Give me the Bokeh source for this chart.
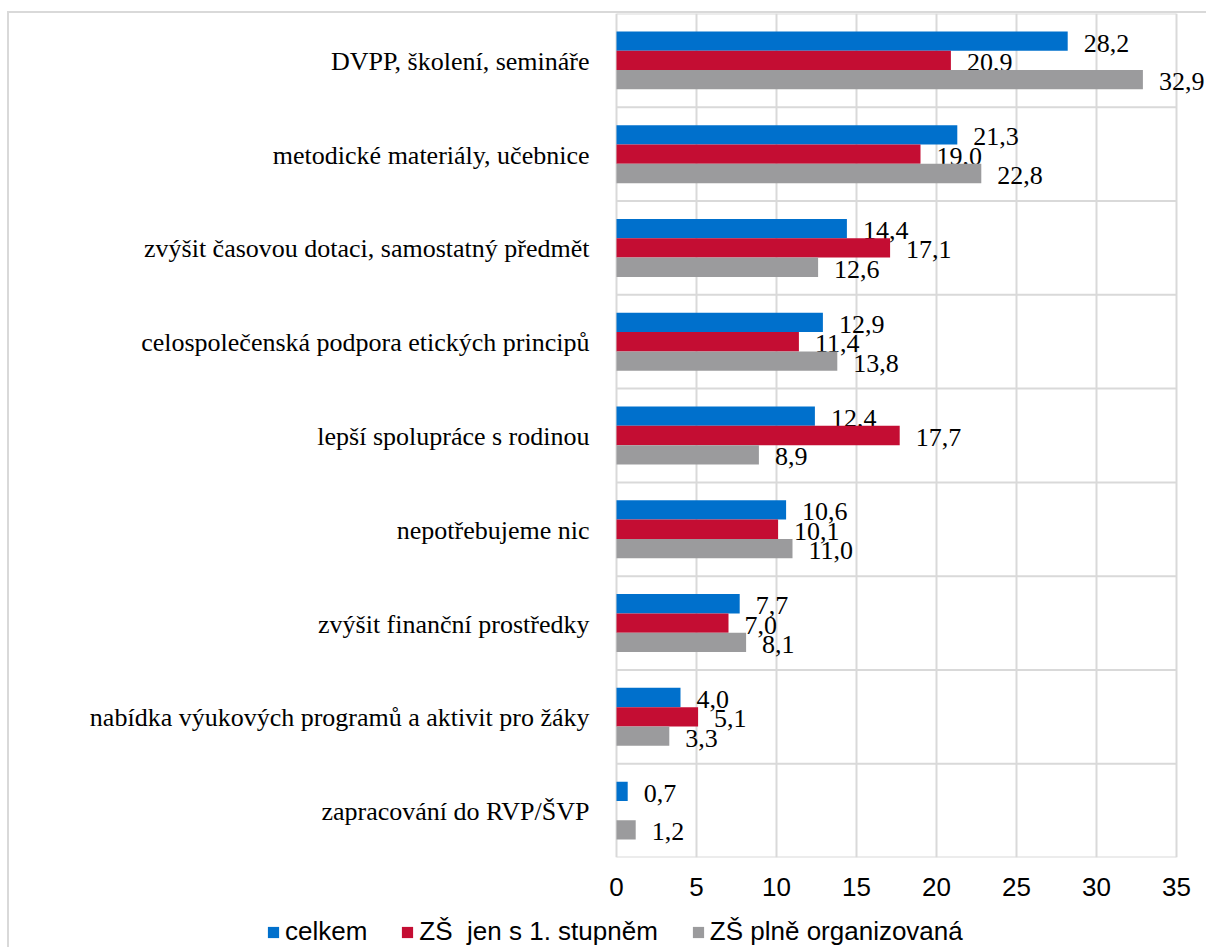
from bokeh.plotting import figure
from bokeh.layouts import column
from bokeh.models import ColumnDataSource, FactorRange, FixedTicker, Legend, LegendItem
from bokeh.transform import dodge
from bokeh.embed import file_html
from bokeh.resources import INLINE

categories = [
    "DVPP, školení, semináře",
    "metodické materiály, učebnice",
    "zvýšit časovou dotaci, samostatný předmět",
    "celospolečenská podpora etických principů",
    "lepší spolupráce s rodinou",
    "nepotřebujeme nic",
    "zvýšit finanční prostředky",
    "nabídka výukových programů a aktivit pro žáky",
    "zapracování do RVP/ŠVP",
]
celkem = [28.2, 21.3, 14.4, 12.9, 12.4, 10.6, 7.7, 4.0, 0.7]
zs_1st = [20.9, 19.0, 17.1, 11.4, 17.7, 10.1, 7.0, 5.1, None]
zs_full = [32.9, 22.8, 12.6, 13.8, 8.9, 11.0, 8.1, 3.3, 1.2]
series_names = ["celkem", "ZŠ  jen s 1. stupněm", "ZŠ plně organizovaná"]
x_ticks = [0, 5, 10, 15, 20, 25, 30, 35]

SERIF = ["Liberation Serif", "Times New Roman", "serif", "Tinos", "Times",
         "Liberation Serif, serif", "Times New Roman, serif", "Tinos, serif", "Times, serif"]
colors = ["#0070CC", "#C40D33", "#9B9B9D"]
offsets = [0.206, 0.0, -0.206]
bar_h = 0.206
GRID = "#d9d9d9"

p = figure(
    width=1199, height=892,
    y_range=FactorRange(factors=list(reversed(categories))),
    x_range=(-37.9375, 37.0),
    y_axis_location=None,
    output_backend="svg", toolbar_location=None,
    min_border_left=0, min_border_right=0, min_border_top=0, min_border_bottom=48,
    styles={"border-left": "2px solid " + GRID, "border-top": "2px solid " + GRID},
)
p.y_range.range_padding = 0
p.outline_line_color = None

p.xgrid.ticker = FixedTicker(ticks=x_ticks)
p.xgrid.grid_line_color = GRID
p.xgrid.grid_line_width = 2
p.ygrid.grid_line_color = None

cat_src = ColumnDataSource(dict(cat=categories, font=SERIF[:len(categories)]))
p.segment(x0=0, x1=35, y0=dodge("cat", -0.5, range=p.y_range), y1=dodge("cat", -0.5, range=p.y_range),
          source=cat_src, line_color=GRID, line_width=2)
p.segment(x0=0, x1=35, y0=dodge("cat", 0.5, range=p.y_range), y1=dodge("cat", 0.5, range=p.y_range),
          source=ColumnDataSource(dict(cat=categories[:1])), line_color=GRID, line_width=2)

# category labels
p.text(x=0, y="cat", text="cat", source=cat_src, x_offset=-27, y_offset=1,
       text_font="font", text_font_size="26px", text_color="#000000",
       text_baseline="middle", text_align="right")

p2 = figure(
    width=1199, height=44,
    y_range=p.y_range, x_range=p.x_range,
    x_axis_location=None, y_axis_location=None,
    output_backend="svg", toolbar_location=None,
    min_border_left=0, min_border_right=0, min_border_top=0, min_border_bottom=0,
    styles={"border-left": "2px solid " + GRID},
)
p2.grid.grid_line_color = None
p2.outline_line_color = None

items = []
for name, vals, col, off in zip(series_names, [celkem, zs_1st, zs_full], colors, offsets):
    idx = [i for i, v in enumerate(vals) if v is not None]
    src = ColumnDataSource(dict(cat=[categories[i] for i in idx],
                                val=[vals[i] for i in idx],
                                lab=[f"{vals[i]:.1f}".replace(".", ",") for i in idx],
                                font=[SERIF[i] for i in idx]))
    p.hbar(y=dodge("cat", off, range=p.y_range), right="val", left=0, height=bar_h,
           source=src, fill_color=col, line_color=None)
    p.text(x="val", y=dodge("cat", off, range=p.y_range), text="lab", source=src,
           x_offset=16, y_offset=2, text_font="font", text_font_size="26px",
           text_color="#000000", text_baseline="middle", text_align="left")
    r2 = p2.hbar(y=dodge("cat", off, range=p.y_range), right="val", left=0, height=bar_h,
                 source=src, fill_color=col, line_color=None, visible=False)
    items.append(LegendItem(label=name, renderers=[r2]))

legend = Legend(items=items, orientation="horizontal", location=(257, 0),
                label_text_font_size="26px", label_text_color="#000000",
                glyph_width=14, glyph_height=14, label_standoff=5, spacing=33,
                padding=0, margin=0, border_line_color=None, background_fill_alpha=0,
                inactive_fill_alpha=0, label_height=20)
p2.add_layout(legend, "center")

p.xaxis.ticker = FixedTicker(ticks=x_ticks)
p.xaxis.axis_line_color = None
p.xaxis.major_tick_line_color = None
p.xaxis.minor_tick_line_color = None
p.xaxis.major_label_standoff = 14
p.xaxis.major_label_text_font_size = "26px"
p.xaxis.major_label_text_color = "#000000"

layout = column(p, p2, margin=(11, 0, 0, 7), spacing=0)
open("out.html", "w").write(file_html(layout, INLINE))
